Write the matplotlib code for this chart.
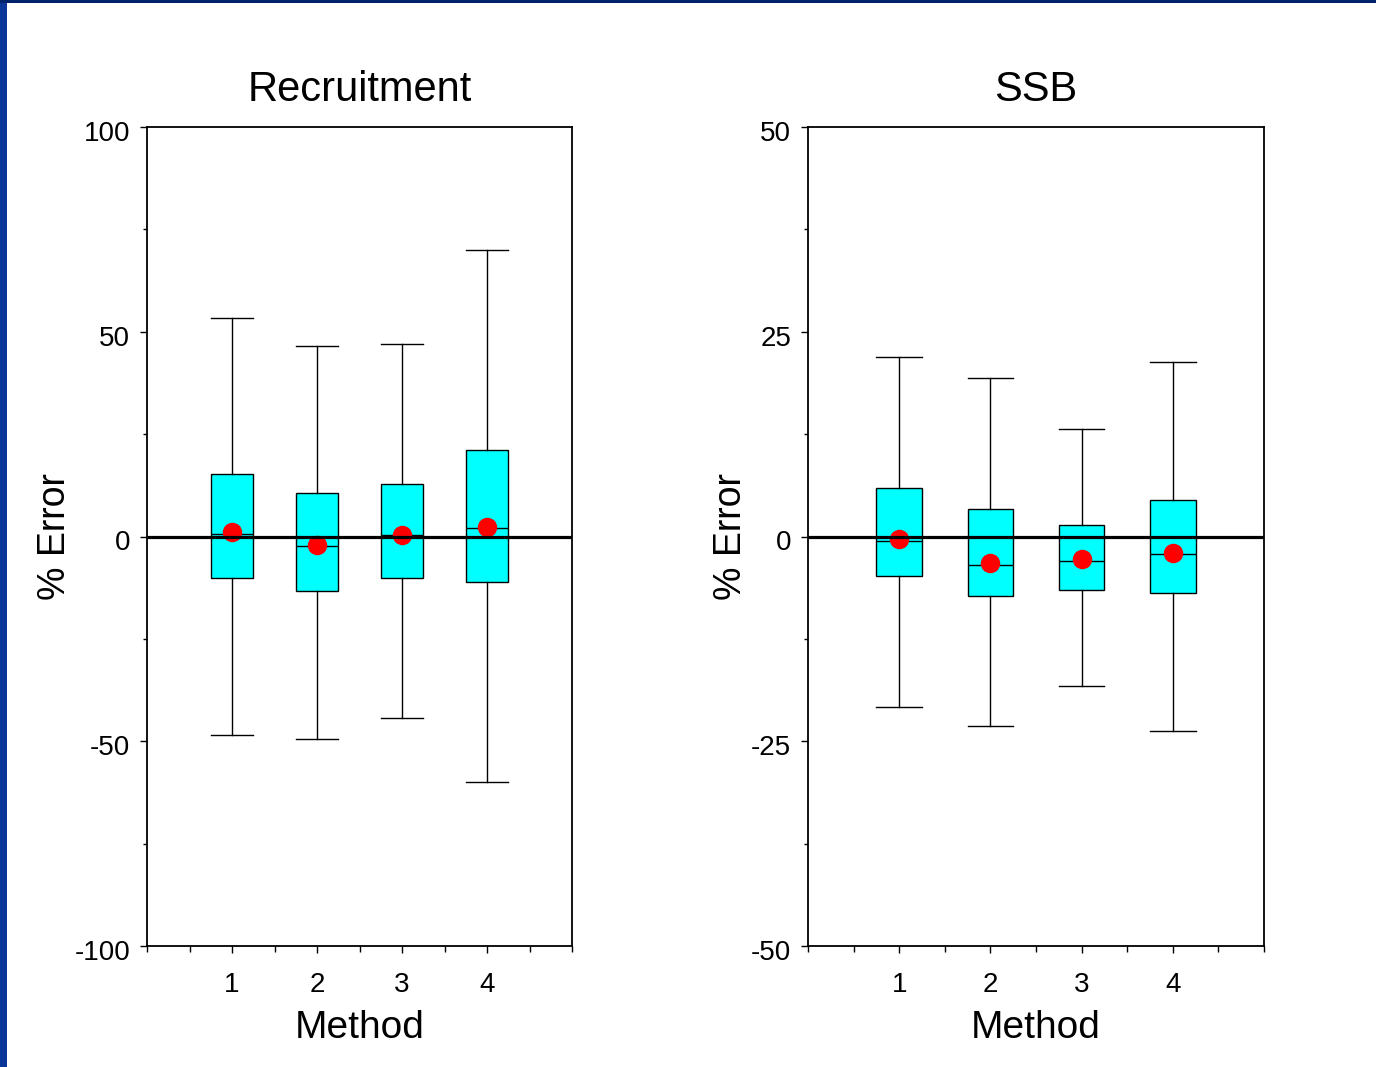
import matplotlib
matplotlib.use('Agg')
import matplotlib.pyplot as plt
from matplotlib.patches import Rectangle
from matplotlib.ticker import MultipleLocator
from matplotlib.transforms import ScaledTranslation

plt.rcParams['font.family'] = ['Liberation Sans', 'DejaVu Sans']
plt.rcParams['axes.unicode_minus'] = False

methods = [1, 2, 3, 4]

# Recruitment % error
rec_q1 = [-10.1, -13.3, -10.1, -11.1]
rec_q3 = [15.3, 10.6, 12.8, 21.1]
rec_med = [0.7, -2.3, 0.3, 2.0]
rec_mean = [1.0, -2.1, 0.4, 2.3]
rec_lo = [-48.5, -49.5, -44.3, -60.0]
rec_hi = [53.4, 46.5, 47.0, 70.0]

# SSB % error
ssb_q1 = [-4.8, -7.3, -6.5, -6.9]
ssb_q3 = [5.9, 3.4, 1.4, 4.5]
ssb_med = [-0.5, -3.5, -3.0, -2.1]
ssb_mean = [-0.3, -3.2, -2.7, -2.0]
ssb_lo = [-20.8, -23.1, -18.3, -23.7]
ssb_hi = [21.9, 19.4, 13.1, 21.3]


def make_stats(q1, q3, med, mean, lo, hi):
    return [dict(q1=a, q3=b, med=c, mean=d, whislo=e, whishi=f, fliers=[])
            for a, b, c, d, e, f in zip(q1, q3, med, mean, lo, hi)]


def draw_panel(ax, stats, title, ylim, major, minor):
    ax.bxp(stats, positions=methods, widths=0.5, capwidths=0.5,
           patch_artist=True, showmeans=True, showfliers=False,
           boxprops=dict(facecolor='#00ffff', edgecolor='black', linewidth=1),
           medianprops=dict(color='black', linewidth=1),
           whiskerprops=dict(color='black', linewidth=1),
           capprops=dict(color='black', linewidth=1),
           meanprops=dict(marker='o', markerfacecolor='red', markeredgecolor='red',
                          markersize=13))
    ax.axhline(0, color='black', linewidth=2.3, zorder=5)
    ax.set_xlim(0, 5)
    ax.set_ylim(*ylim)
    ax.set_xticks(methods)
    ax.set_xticklabels([str(m) for m in methods])
    ax.xaxis.set_minor_locator(MultipleLocator(0.5))
    ax.yaxis.set_major_locator(MultipleLocator(major))
    ax.yaxis.set_minor_locator(MultipleLocator(minor))
    ax.tick_params(which='major', direction='out', length=5, width=1,
                   labelsize=20, pad=7)
    ax.tick_params(which='minor', direction='out', length=3, width=1)
    ax.tick_params(axis='x', which='minor', length=4)
    ax.tick_params(axis='x', which='major', pad=14)
    for s in ax.spines.values():
        s.set_linewidth(1.3)
    ax.set_title(title, fontsize=30, pad=19)
    ax.set_xlabel('Method', fontsize=28, labelpad=8)
    ax.set_ylabel('% Error', fontsize=27)
    # y tick labels sit a little below their ticks in the original
    shift = ScaledTranslation(0, -4 / 100, ax.figure.dpi_scale_trans)
    for t in ax.yaxis.get_major_ticks():
        t.label1.set_transform(t.label1.get_transform() + shift)


fig = plt.figure(figsize=(13.76, 10.67), dpi=100)
fig.patches.append(Rectangle((0, 0), 7 / 1376, 1, transform=fig.transFigure,
                             facecolor='#0a3699', edgecolor='none', zorder=0))
fig.patches.append(Rectangle((0, 1 - 3 / 1067), 1, 3 / 1067, transform=fig.transFigure,
                             facecolor='#00226b', edgecolor='none', zorder=0))

ax1 = fig.add_axes([147 / 1376, 1 - 946 / 1067, 425 / 1376, 819 / 1067])
ax2 = fig.add_axes([808 / 1376, 1 - 946 / 1067, 456 / 1376, 819 / 1067])

draw_panel(ax1, make_stats(rec_q1, rec_q3, rec_med, rec_mean, rec_lo, rec_hi),
           'Recruitment', (-100, 100), 50, 25)
draw_panel(ax2, make_stats(ssb_q1, ssb_q3, ssb_med, ssb_mean, ssb_lo, ssb_hi),
           'SSB', (-50, 50), 25, 12.5)

ax1.yaxis.set_label_coords(-0.173, 0.5)
ax2.yaxis.set_label_coords(-0.129, 0.5)

fig.savefig('out.png', dpi=100)
